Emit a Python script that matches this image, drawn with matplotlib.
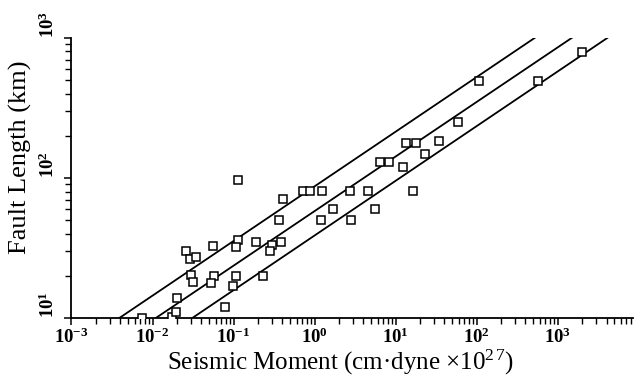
import matplotlib
matplotlib.use("Agg")
import matplotlib.pyplot as plt
import numpy as np
from matplotlib.ticker import LogLocator, NullFormatter

plt.rcParams['font.family'] = ['Liberation Serif', 'DejaVu Serif']
plt.rcParams['mathtext.fontset'] = 'custom'
plt.rcParams['mathtext.rm'] = 'Liberation Serif'
plt.rcParams['mathtext.bf'] = 'Liberation Serif:bold'
plt.rcParams['mathtext.it'] = 'Liberation Serif:italic'

# seismic moment (x 10^27 cm dyne) and fault length (km) of each event
moment = [0.0074, 0.0173, 0.0194, 0.0200, 0.0296, 0.0314, 0.0258, 0.0288,
          0.0342, 0.0552, 0.0569, 0.0522, 0.0777, 0.106, 0.0973, 0.112,
          0.106, 0.112, 0.191, 0.233, 0.301, 0.284, 0.388, 0.410, 0.366,
          0.723, 0.881, 1.24, 1.20, 1.69, 2.73, 2.80, 4.53, 5.52, 6.37,
          8.20, 12.2, 13.6, 17.6, 16.6, 22.7, 34.7, 59.3, 107.0, 569.0,
          1970.0]
length = [10.0, 10.2, 11.0, 13.9, 20.3, 18.1, 30.1, 26.4,
          27.3, 32.7, 20.0, 17.8, 12.0, 20.0, 16.9, 36.1,
          32.1, 96.8, 34.9, 20.0, 33.2, 30.1, 34.9, 70.8, 50.1,
          80.7, 80.7, 80.7, 50.1, 60.1, 80.7, 50.1, 80.7, 60.1, 130.0,
          130.0, 120.0, 178.0, 178.0, 80.7, 148.0, 184.0, 251.0, 493.0, 493.0,
          795.0]

# reference lines: moment where each line meets L = 10 km and L = 1000 km
line_length = [10.0, 1000.0]
line_moments = [
    [0.0039, 520.0],
    [0.011, 1490.0],
    [0.031, 4100.0],
]

x_tick_exponents = [-3, -2, -1, 0, 1, 2, 3]
y_tick_exponents = [1, 2, 3]

fig = plt.figure(figsize=(6.44, 3.79), dpi=100)
ax = fig.add_axes([0.111, 0.161, 0.872, 0.739])

for m in line_moments:
    ax.plot(m, line_length, color='black', lw=1.3, zorder=2)

ax.plot(moment, length, linestyle='none', marker='s', ms=5.5, mew=1.1,
        mec='black', mfc='white', zorder=3)

ax.set_xscale('log')
ax.set_yscale('log')
ax.set_xlim(1e-3, 8500)
ax.set_ylim(10, 1000)

for side in ('top', 'right'):
    ax.spines[side].set_visible(False)
for side in ('left', 'bottom'):
    ax.spines[side].set_linewidth(1.3)

ax.set_xticks([10.0 ** e for e in x_tick_exponents])
ax.set_xticklabels([r'$\mathbf{10^{%d}}$' % e for e in x_tick_exponents],
                   fontsize=13.5)
ax.set_yticks([10.0 ** e for e in y_tick_exponents])
ax.set_yticklabels([r'$\mathbf{10^{%d}}$' % e for e in y_tick_exponents],
                   fontsize=13.5, rotation=90, va='bottom')
ax.xaxis.set_minor_locator(LogLocator(base=10, subs=np.arange(2, 10)))
ax.yaxis.set_minor_locator(LogLocator(base=10, subs=np.arange(2, 10)))
ax.xaxis.set_minor_formatter(NullFormatter())
ax.yaxis.set_minor_formatter(NullFormatter())
ax.tick_params(which='major', direction='out', length=5, width=1.1)
ax.tick_params(which='minor', direction='out', length=4, width=1.0)
ax.tick_params(axis='x', which='major', pad=2)
ax.tick_params(axis='y', which='major', pad=5)

ax.set_xlabel('Seismic Moment (cm\u00b7dyne $\\times$10$^{2\\,7}$)',
              fontsize=18)
ax.xaxis.set_label_coords(0.48, -0.105)
ax.set_ylabel('Fault Length (km)', fontsize=19)
ax.yaxis.set_label_coords(-0.070, 0.575)

fig.savefig('out.png', dpi=100)
